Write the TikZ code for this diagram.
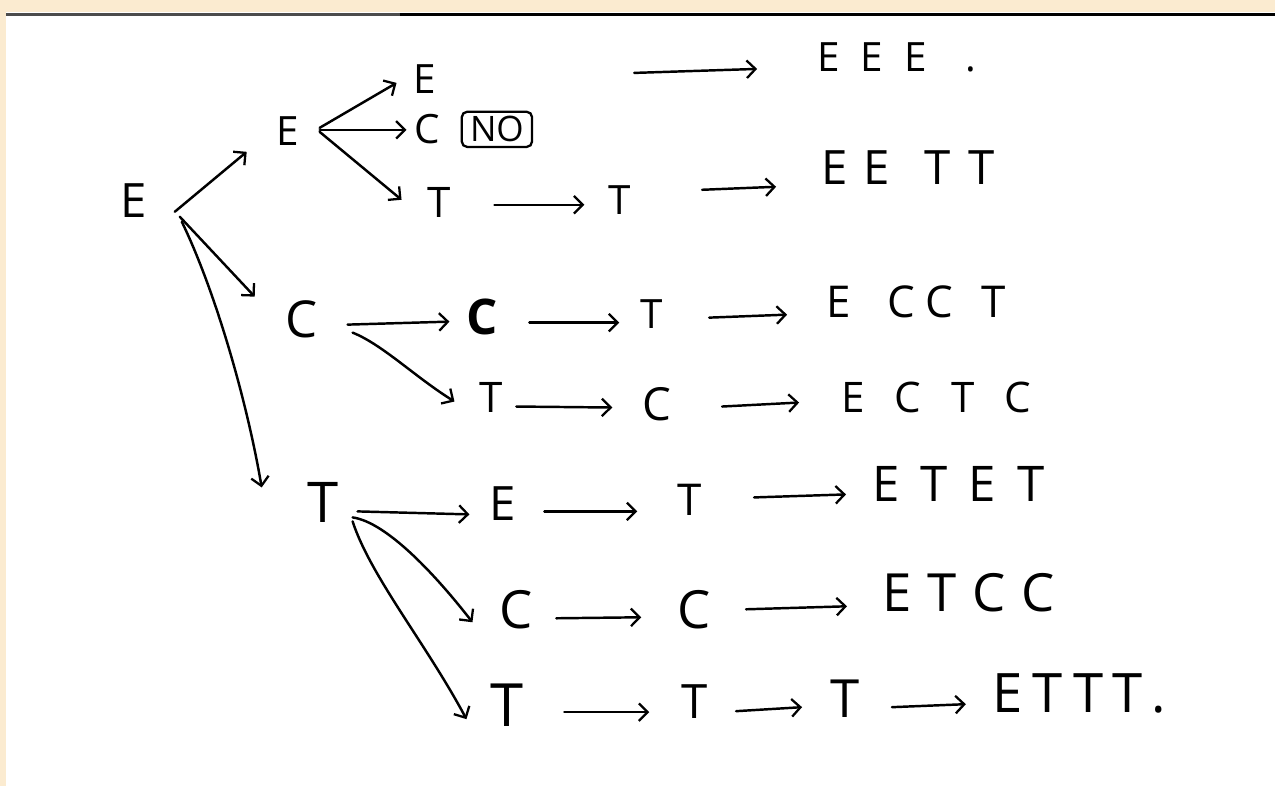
\documentclass[tikz,border=0pt]{standalone}
\usepackage{fontspec}
\setmainfont{Open Sans}
\usetikzlibrary{arrows.meta,calc}
\definecolor{paper}{HTML}{FBEBD0}
\tikzset{
  ch/.style={font=\fontsize{#1}{#1}\selectfont, inner sep=0pt, anchor=center},
  str/.style={font=\fontsize{#1}{#1}\selectfont, inner sep=0pt, anchor=west},
  arr/.style={draw, line width=1.4pt, line cap=round,
              -{Straight Barb[length=5pt,width=10pt,line width=1.3pt]}},
  nobox/.style={draw, line width=1.3pt, rounded corners=3pt, inner sep=0pt,
                minimum width=40pt, minimum height=20pt,
                font=\fontsize{20}{20}\selectfont}
}
\begin{document}
\begin{tikzpicture}[x=0.02cm,y=-0.02cm]
% sheet, scanner margin and rule at the top
\fill[white] (0,0) rectangle (1276,787);
\fill[paper] (0,0) rectangle (1276,12);
\fill[paper] (0,0) rectangle (6,787);
\draw[line width=1.7pt, black!70] (6,14.5) -- (400,14.5);
\draw[line width=1.7pt, black] (400,14.5) -- (1276,14.5);
\useasboundingbox (0,0) rectangle (1276,787);

% root and first level
\node[ch=27] (r)  at (134,201) {E};
\node[ch=23] (e1) at (288,131) {E};
\node[ch=29] (c1) at (302,320) {C};
\node[ch=32] (t1) at (323,503) {T};

% branch E
\node[ch=23] (ee)  at (425,79)  {E};
\node[ch=23] (ec)  at (428,129) {C};
\node[nobox] (no)  at (497.5,129.5) {NO};
\node[ch=24] (et)  at (440,203) {T};
\node[ch=23] (et2) at (620,200) {T};
\node[str=23] (s1) at (818,57)  {E\hspace{12pt}E\hspace{12pt}E\hspace{22pt}.};
\node[str=27] (s2) at (822,168) {E\hspace{9pt}E\hspace{20pt}T\hspace{10pt}T};

% branch C
\node[ch=28] (cb)  at (483,317) {\bfseries C};
\node[ch=23] (cbt) at (652,314) {T};
\node[str=25] (s3) at (827,302) {E\hspace{21pt}C\hspace{6pt}C\hspace{16pt}T};
\node[ch=24] (ct)  at (492,398) {T};
\node[ch=26] (ctc) at (658,405) {C};
\node[str=24] (s4) at (842,398) {E\hspace{17pt}C\hspace{17pt}T\hspace{17pt}C};

% branch T
\node[ch=27] (te)  at (503,504) {E};
\node[ch=25] (tet) at (690,500) {T};
\node[str=28] (s5) at (873,485) {E\hspace{12pt}T\hspace{12pt}E\hspace{12pt}T};
\node[ch=30] (tc)  at (517,610) {C};
\node[ch=30] (tcc) at (695,610) {C};
\node[str=30] (s6) at (883,593) {E\hspace{9pt}T\hspace{9pt}C\hspace{9pt}C};
\node[ch=34] (tt)   at (508,706) {T};
\node[ch=27] (ttt)  at (695,702) {T};
\node[ch=30] (tttt) at (846,700) {T};
\node[str=31] (s7) at (993,694) {E\hspace{6pt}T\hspace{6pt}T\hspace{5pt}T\hspace{5pt}.};

% connectors from the root
\draw[arr] ($(r)+(41,11)$) -- ($(e1)+(-41,21)$);
\draw[arr] ($(r)+(46,16)$) -- ($(c1)+(-47,-23)$);
\draw[arr] ($(r)+(48,21)$) .. controls +(33,68) and +(-15,-88) .. ($(t1)+(-61,-15)$);

% connectors of branch E
\draw[arr] ($(e1)+(32,-3)$) -- ($(ee)+(-28,4)$);
\draw[arr] ($(e1)+(32,-1)$) -- ($(ec)+(-21,1)$);
\draw[arr] ($(e1)+(32,1)$)  -- ($(et)+(-38,-3)$);
\draw[arr] ($(et)+(55,2)$)  -- ($(et2)+(-35,5)$);
\draw[arr] ($(ee)+(210,-6)$) -- ($(s1.west)+(-60,12)$);
\draw[arr] ($(et2)+(83,-10)$) -- ($(s2.west)+(-45,19)$);

% connectors of branch C
\draw[arr] ($(c1)+(46,5)$)  -- ($(cb)+(-33,5)$);
\draw[arr] ($(c1)+(51,13)$) .. controls +(30,12) and +(-40,-25) .. ($(ct)+(-37,4)$);
\draw[arr] ($(cb)+(47,6)$)  -- ($(cbt)+(-32,9)$);
\draw[arr] ($(cbt)+(58,4)$) -- ($(s3.west)+(-39,13)$);
\draw[arr] ($(ct)+(25,9)$)  -- ($(ctc)+(-45,3)$);
\draw[arr] ($(ctc)+(65,2)$) -- ($(s4.west)+(-42,5)$);

% connectors of branch T
\draw[arr] ($(t1)+(35,9)$)  -- ($(te)+(-33,11)$);
\draw[arr] ($(te)+(42,8)$)  -- ($(tet)+(-52,12)$);
\draw[arr] ($(tet)+(65,-2)$) -- ($(s5.west)+(-26,10)$);
\draw[arr] ($(t1)+(30,15)$) .. controls +(35,5) and +(-35,-45) .. ($(tc)+(-44,13)$);
\draw[arr] ($(tc)+(40,9)$)  -- ($(tcc)+(-53,8)$);
\draw[arr] ($(tcc)+(52,0)$) -- ($(s6.west)+(-35,14)$);
\draw[arr] ($(t1)+(30,19)$) .. controls +(18,55) and +(-40,-75) .. ($(tt)+(-41,14)$);
\draw[arr] ($(tt)+(57,7)$)  -- ($(ttt)+(-45,11)$);
\draw[arr] ($(ttt)+(42,10)$) -- ($(tttt)+(-43,8)$);
\draw[arr] ($(tttt)+(47,8)$) -- ($(s7.west)+(-26,11)$);
\end{tikzpicture}
\end{document}
